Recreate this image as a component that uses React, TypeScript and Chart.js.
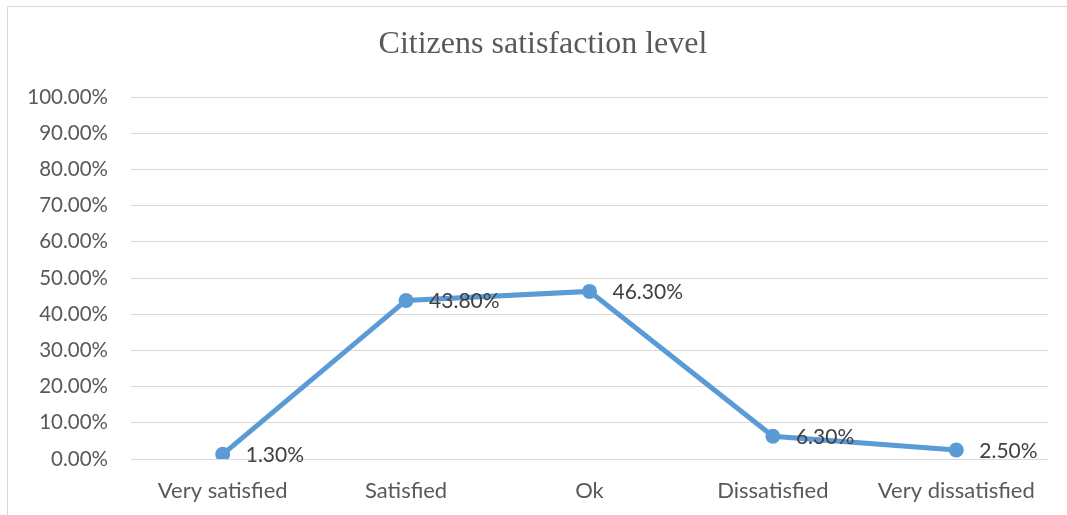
import React, { useEffect, useRef } from "react";
import { Chart, registerables } from "chart.js";

Chart.register(...registerables);

const categories = ["Very satisfied", "Satisfied", "Ok", "Dissatisfied", "Very dissatisfied"];
const satisfaction = [1.3, 43.8, 46.3, 6.3, 2.5];
const yTicks = [0, 10, 20, 30, 40, 50, 60, 70, 80, 90, 100];
const titleText = "Citizens satisfaction level";

const frame = {
  id: "frame",
  beforeDraw(chart: any) {
    const ctx = chart.ctx;
    ctx.save();
    ctx.fillStyle = "#ffffff";
    ctx.fillRect(0, 0, chart.width, chart.height);
    ctx.strokeStyle = "#d9d9d9";
    ctx.lineWidth = 1;
    ctx.beginPath();
    ctx.moveTo(7.5, chart.height);
    ctx.lineTo(7.5, 6.5);
    ctx.lineTo(chart.width, 6.5);
    ctx.stroke();
    ctx.fillStyle = "#595959";
    ctx.font = "32px 'Liberation Serif', 'Times New Roman', serif";
    ctx.textAlign = "center";
    ctx.textBaseline = "middle";
    ctx.fillText(titleText, 543, 45);
    ctx.restore();
  },
};

const labels = {
  id: "pointLabels",
  afterDatasetsDraw(chart: any) {
    const ctx = chart.ctx;
    const meta = chart.getDatasetMeta(0);
    ctx.save();
    ctx.fillStyle = "#404040";
    ctx.font = "21px Lato, 'Liberation Sans', sans-serif";
    ctx.textAlign = "left";
    ctx.textBaseline = "middle";
    meta.data.forEach((pt: any, i: number) => {
      ctx.fillText(satisfaction[i].toFixed(2) + "%", pt.x + 23, pt.y + 1);
    });
    ctx.restore();
  },
};

export default function App() {
  const ref = useRef<HTMLCanvasElement>(null);
  useEffect(() => {
    const chart = new Chart(ref.current!, {
      type: "line",
      data: {
        labels: categories,
        datasets: [
          {
            data: satisfaction,
            borderColor: "#5b9bd5",
            backgroundColor: "#5b9bd5",
            borderWidth: 5,
            pointRadius: 7.5,
            pointHoverRadius: 7.5,
            pointBorderWidth: 0,
            tension: 0,
          },
        ],
      },
      options: {
        animation: false,
        responsive: false,
        layout: { padding: { top: 97, right: 19, bottom: 0, left: 0 } },
        plugins: { legend: { display: false }, tooltip: { enabled: false }, title: { display: false } },
        scales: {
          x: {
            offset: true,
            grid: { display: false, drawTicks: false },
            border: { display: false },
            ticks: {
              color: "#595959",
              font: { family: "Lato, 'Liberation Sans', sans-serif", size: 22 },
              padding: 19,
              maxRotation: 0,
              autoSkip: false,
            },
            afterFit(scale: any) {
              scale.height = 56;
            },
          },
          y: {
            min: 0,
            max: 100,
            afterBuildTicks(scale: any) {
              scale.ticks = yTicks.map((v) => ({ value: v }));
            },
            grid: { color: "#d9d9d9", lineWidth: 1, drawTicks: false },
            border: { display: false },
            ticks: {
              color: "#595959",
              font: { family: "Lato, 'Liberation Sans', sans-serif", size: 20.5 },
              padding: 23,
              callback: (v: any) => Number(v).toFixed(2) + "%",
            },
            afterFit(scale: any) {
              scale.width = 131;
            },
          },
        },
      },
      plugins: [frame, labels],
    });
    return () => chart.destroy();
  }, []);
  return (
    <div style={{ position: "fixed", left: 0, top: 0, width: 1067, height: 515, background: "#fff" }}>
      <canvas ref={ref} width={1067} height={515} style={{ width: 1067, height: 515 }} />
    </div>
  );
}
